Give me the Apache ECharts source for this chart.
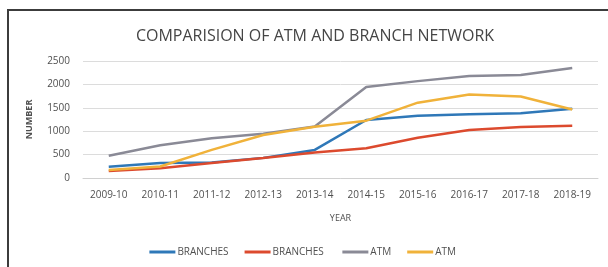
<!DOCTYPE html>
<html>
<head>
<meta charset="utf-8">
<script src="https://cdn.jsdelivr.net/npm/echarts@6/dist/echarts.min.js"></script>
<style>
  html, body { margin: 0; padding: 0; background: #fff; }
  #chart { width: 608px; height: 267px; position: relative; }
  #frame {
    position: absolute; left: 7px; top: 9px; width: 600px; height: 270px;
    border-top: 2px solid #3c3c3c; border-left: 2px solid #3c3c3c;
    pointer-events: none;
  }
</style>
</head>
<body>
<div id="chart"></div>
<div id="frame"></div>
<script>
const years = ['2009-10', '2010-11', '2011-12', '2012-13', '2013-14', '2014-15', '2015-16', '2016-17', '2017-18', '2018-19'];
const branchesA = [240, 320, 330, 430, 600, 1240, 1330, 1360, 1385, 1480];
const branchesB = [150, 210, 320, 425, 545, 635, 860, 1025, 1090, 1115];
const atmA = [475, 700, 850, 945, 1100, 1945, 2070, 2180, 2200, 2350];
const atmB = [170, 245, 600, 920, 1095, 1225, 1610, 1785, 1740, 1465];
const yTicks = [0, 500, 1000, 1500, 2000, 2500];

const FONT = 'Open Sans';
const TXT = '#505050';

const chart = echarts.init(document.getElementById('chart'), null, { renderer: 'canvas' });

function line(name, data, color) {
  return {
    name, type: 'line', data,
    symbol: 'none',
    lineStyle: { width: 2.5, color },
    itemStyle: { color }
  };
}

chart.setOption({
  animation: false,
  title: {
    text: 'COMPARISION OF ATM AND BRANCH NETWORK',
    left: 310, textAlign: 'center', top: 23,
    textStyle: { fontFamily: FONT, fontSize: 16, fontWeight: 500, color: '#454545' }
  },
  legend: {
    bottom: 5, left: 'center',
    itemWidth: 26, itemHeight: 3, itemGap: 16,
    icon: 'rect',
    textStyle: { fontFamily: FONT, fontSize: 10, color: TXT, padding: [0, 0, 0, -3] },
    data: ['BRANCHES', 'BRANCHES ', 'ATM', 'ATM ']
  },
  grid: { left: 83, right: 10, top: 61, bottom: 89 },
  xAxis: {
    type: 'category', data: years, boundaryGap: true,
    name: 'YEAR', nameLocation: 'middle', nameGap: 36,
    nameTextStyle: { fontFamily: FONT, fontSize: 9, color: TXT },
    axisLine: { lineStyle: { color: '#d0d0d0' } },
    axisTick: { show: false },
    axisLabel: { fontFamily: FONT, fontSize: 10, color: TXT, margin: 12 }
  },
  yAxis: {
    type: 'value', min: yTicks[0], max: yTicks[yTicks.length - 1], interval: 500,
    name: 'NUMBER', nameLocation: 'middle', nameGap: 49, nameRotate: 90,
    nameTextStyle: { fontFamily: FONT, fontSize: 9, fontWeight: 'bold', color: TXT },
    axisLine: { show: false },
    axisTick: { show: false },
    axisLabel: { fontFamily: FONT, fontSize: 10, color: TXT, margin: 13, formatter: v => String(v) },
    splitLine: { lineStyle: { color: '#dcdcdc' } }
  },
  series: [
    line('BRANCHES', branchesA, '#2f78b8'),
    line('BRANCHES ', branchesB, '#dc4a2e'),
    line('ATM', atmA, '#8a8a96'),
    line('ATM ', atmB, '#f0b23a')
  ]
});
</script>
</body>
</html>
